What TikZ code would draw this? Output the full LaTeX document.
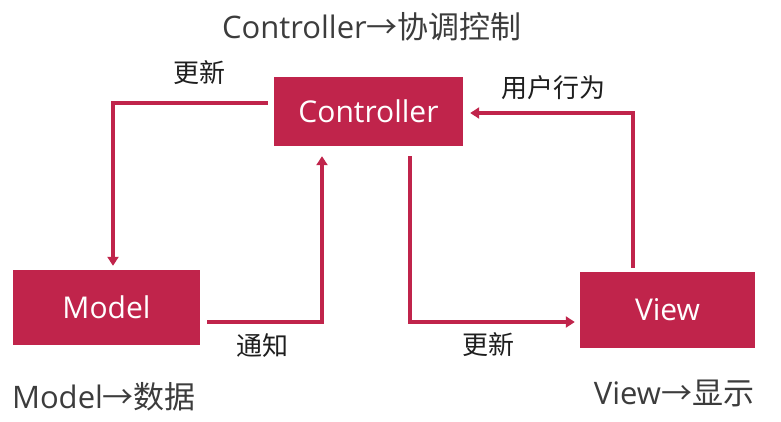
\documentclass[tikz,border=0pt]{standalone}
\usepackage{fontspec}
\setmainfont{Open Sans}
\newfontfamily\cjk{Noto Sans CJK SC}
\usetikzlibrary{arrows.meta}
\definecolor{mvcred}{HTML}{C0244B}
\definecolor{txtgray}{HTML}{1E1E1E}
\definecolor{ttlgray}{HTML}{3C3C3C}
\tikzset{
	box/.style={fill=mvcred,text=white,inner sep=0pt,font=\fontsize{30}{34}\selectfont},
	flow/.style={draw=mvcred,line width=3.2pt,-{Triangle[length=9pt,width=11pt]}},
	lbl/.style={text=txtgray,font=\cjk\fontsize{26}{30}\selectfont},
	ttl/.style={text=ttlgray,font=\fontsize{31}{36}\selectfont}
}
\begin{document}
\begin{tikzpicture}[x=1pt,y=-1pt]
	\useasboundingbox (0,0) rectangle (781,421);
	\node[box,minimum width=189pt,minimum height=69pt] at (368.5,111.5) (ctrl) {Controller};
	\node[box,minimum width=187pt,minimum height=75pt] at (106.5,307.5) (model) {Model};
	\node[box,minimum width=175pt,minimum height=76pt] at (667.5,310) (view) {View};
	\node[ttl] at (372,27) (ttlctrl) {Controller{\cjk →协调控制}};
	\node[ttl] at (104,397) (ttlmodel) {Model{\cjk →数据}};
	\node[ttl] at (674,393) (ttlview) {View{\cjk →显示}};
	\draw[flow] ([xshift=-6pt,yshift=8.5pt]ctrl.west) -| ([xshift=6.5pt,yshift=4pt]model.north);
	\draw[flow] ([xshift=7pt,yshift=-14.5pt]model.east) -| ([xshift=-46.5pt,yshift=-10pt]ctrl.south);
	\draw[flow] ([xshift=41.5pt,yshift=-10pt]ctrl.south) |- ([xshift=-5pt,yshift=-12pt]view.west);
	\draw[flow] ([xshift=-34.5pt,yshift=4pt]view.north) |- ([xshift=7pt,yshift=-1.5pt]ctrl.east);
	\node[lbl] at (199,73) (lupdm) {更新};
	\node[lbl] at (262,346) (lnotify) {通知};
	\node[lbl] at (488,345) (lupdv) {更新};
	\node[lbl] at (553,88) (luser) {用户行为};
\end{tikzpicture}
\end{document}
